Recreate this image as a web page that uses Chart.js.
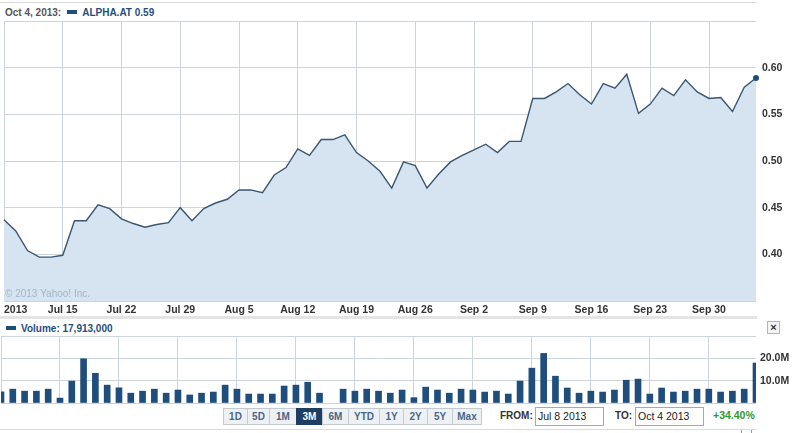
<!DOCTYPE html>
<html>
<head>
<meta charset="utf-8">
<script src="https://cdn.jsdelivr.net/npm/chart.js@4.4.1/dist/chart.umd.min.js"></script>
<style>
  body { margin: 0; width: 795px; height: 433px; background: #fff; position: relative; overflow: hidden;
         font-family: "Liberation Sans", Arial, sans-serif; }
  .abs { position: absolute; }
  .legend { font-size: 10px; font-weight: bold; white-space: nowrap; line-height: 12px; }
  .legend .date { color: #555; }
  .legend .mark { display: inline-block; width: 10px; height: 4px; background: #1f4e7d; margin: 0 5px 0 6px; vertical-align: 2px; }
  .legend .sym { color: #1f4e7d; }
  .btn { position: absolute; top: 408px; height: 15px; border: 1px solid #c3cad1; background: #eef1f4;
         font-size: 10px; font-weight: bold; color: #4a6788; text-align: center; line-height: 15px; box-sizing: content-box; }
  .btn.on { background: #1e3d63; color: #fff; border-color: #1e3d63; }
  .box { position: absolute; top: 407px; height: 17px; border: 1px solid #a9a9a9; background: #fff;
         font-size: 10.5px; color: #222; line-height: 17px; padding-left: 2px; }
  .lbl { position: absolute; top: 408px; font-size: 10px; font-weight: bold; color: #333; line-height: 15px; }
</style>
</head>
<body>
<div class="abs" style="left:0;top:2px;width:757px;height:1px;background:#dcdcdc"></div>
<div class="abs legend" style="left:5px;top:7px"><span class="date">Oct 4, 2013:</span><span class="mark"></span><span class="sym">ALPHA.AT 0.59</span></div>

<canvas id="price" class="abs" width="795" height="318" style="left:0;top:0"></canvas>
<div class="abs" style="left:0;top:316px;width:757px;height:3px;background:#e4e4e4"></div>

<div class="abs legend" style="left:0;top:323px"><span class="mark" style="margin-left:6px"></span><span class="sym">Volume: 17,913,000</span></div>
<div class="abs" style="left:767px;top:321px;width:11px;height:11px;border:1px solid #b5b5b5;background:#f3f3f3;font-size:11px;line-height:11px;text-align:center;color:#333;font-weight:bold">&times;</div>
<canvas id="volume" class="abs" width="795" height="88" style="left:0;top:318px"></canvas>

<div id="buttons"></div>
<div class="lbl" style="left:500px">FROM:</div>
<div class="box" style="left:535px;width:65px">Jul 8 2013</div>
<div class="lbl" style="left:615px">TO:</div>
<div class="box" style="left:635px;width:65px">Oct 4 2013</div>
<div class="lbl" style="left:713px;color:#2f9a2f;font-size:10.5px">+34.40%</div>
<div class="abs" style="left:0;top:429px;width:757px;height:1px;background:#dcdcdc"></div>
<div class="abs" style="left:741px;top:430px;width:1px;height:3px;background:#999"></div>
<div class="abs" style="left:751px;top:430px;width:1px;height:3px;background:#999"></div>

<script>
// trading days, Jul 8 - Oct 4 2013
const dates = [
  'Jul 8','Jul 9','Jul 10','Jul 11','Jul 12',
  'Jul 15','Jul 16','Jul 17','Jul 18','Jul 19',
  'Jul 22','Jul 23','Jul 24','Jul 25','Jul 26',
  'Jul 29','Jul 30','Jul 31','Aug 1','Aug 2',
  'Aug 5','Aug 6','Aug 7','Aug 8','Aug 9',
  'Aug 12','Aug 13','Aug 14','Aug 15','Aug 16',
  'Aug 19','Aug 20','Aug 21','Aug 22','Aug 23',
  'Aug 26','Aug 27','Aug 28','Aug 29','Aug 30',
  'Sep 2','Sep 3','Sep 4','Sep 5','Sep 6',
  'Sep 9','Sep 10','Sep 11','Sep 12','Sep 13',
  'Sep 16','Sep 17','Sep 18','Sep 19','Sep 20',
  'Sep 23','Sep 24','Sep 25','Sep 26','Sep 27',
  'Sep 30','Oct 1','Oct 2','Oct 3','Oct 4'
];
const weekLabels = ['2013','Jul 15','Jul 22','Jul 29','Aug 5','Aug 12','Aug 19','Aug 26','Sep 2','Sep 9','Sep 16','Sep 23','Sep 30'];

const closePrice = [
  0.437, 0.425, 0.404, 0.397, 0.397,
  0.399, 0.436, 0.436, 0.453, 0.449,
  0.438, 0.433, 0.429, 0.432, 0.434,
  0.450, 0.436, 0.449, 0.455, 0.459,
  0.469, 0.469, 0.466, 0.485, 0.493,
  0.513, 0.506, 0.523, 0.523, 0.528,
  0.509, 0.500, 0.489, 0.471, 0.499,
  0.495, 0.471, 0.486, 0.499, 0.506,
  0.512, 0.518, 0.509, 0.521, 0.521,
  0.567, 0.567, 0.574, 0.583, 0.571,
  0.561, 0.583, 0.578, 0.593, 0.551,
  0.561, 0.578, 0.570, 0.587, 0.574,
  0.567, 0.568, 0.553, 0.579, 0.589
];

// volume in millions (Aug 15 holiday: no trading)
const volumeM = [
  5.0, 6.2, 5.3, 5.3, 6.2,
  2.2, 9.8, 19.8, 13.3, 8.0,
  6.8, 4.4, 5.3, 6.2, 4.4,
  5.8, 3.6, 4.4, 4.9, 8.0,
  6.2, 4.0, 4.0, 4.0, 7.6,
  8.0, 9.3, 4.4, null, 6.2,
  5.3, 6.2, 5.3, 4.4, 5.8,
  2.4, 7.1, 5.8, 4.4, 6.2,
  5.8, 4.9, 5.3, 4.0, 9.8,
  15.6, 22.2, 12.0, 6.7, 4.4,
  5.3, 4.9, 5.8, 10.2, 10.7,
  4.0, 6.7, 4.9, 5.3, 6.2,
  6.2, 4.9, 5.3, 6.2, 17.9
];

const priceTicks = [0.40, 0.45, 0.50, 0.55, 0.60];
const volumeTicks = [10, 20];
const rangeButtons = ['1D','5D','1M','3M','6M','YTD','1Y','2Y','5Y','Max'];

const gridColor = '#cdd5dc';
const axisFont = { family: '"Liberation Sans", Arial, sans-serif', size: 10.5, weight: 'bold' };

// buttons row
const btnEdges = [223, 247, 269, 296, 322, 348, 379, 403, 427, 452, 481];
const btnWrap = document.getElementById('buttons');
rangeButtons.forEach((b, i) => {
  const d = document.createElement('div');
  d.className = 'btn' + (b === '3M' ? ' on' : '');
  d.style.left = btnEdges[i] + 'px';
  d.style.width = (btnEdges[i + 1] - btnEdges[i] - 1) + 'px';
  d.textContent = b;
  btnWrap.appendChild(d);
});

const weekGrid = ctx => (ctx.index % 5 === 0 ? gridColor : 'rgba(0,0,0,0)');
const fitRight = s => { s.width = 39; s.paddingTop = 0; s.paddingBottom = 0; };

// watermark
const watermark = {
  id: 'watermark',
  afterDatasetsDraw(chart) {
    const c = chart.ctx;
    c.save();
    c.font = '10px "Liberation Sans", Arial, sans-serif';
    c.fillStyle = 'rgba(150,165,180,0.75)';
    c.textBaseline = 'alphabetic';
    c.fillText('\u00a9 2013 Yahoo! Inc.', 5, 297);
    c.restore();
  }
};

new Chart(document.getElementById('price'), {
  type: 'line',
  data: {
    labels: dates,
    datasets: [{
      data: closePrice,
      borderColor: '#3a5672',
      borderWidth: 1.4,
      backgroundColor: '#d5e4f0',
      fill: 'start',
      tension: 0,
      pointRadius: ctx => (ctx.dataIndex === closePrice.length - 1 ? 3 : 0),
      pointBackgroundColor: '#1f4e7d',
      pointBorderWidth: 0
    }]
  },
  options: {
    responsive: false,
    animation: false,
    layout: { padding: { left: 1, top: 21, right: 0, bottom: 0 } },
    plugins: { legend: { display: false }, tooltip: { enabled: false } },
    scales: {
      x: {
        grid: { color: weekGrid, drawTicks: false },
        border: { display: false },
        ticks: {
          autoSkip: false, maxRotation: 0, align: 'inner', padding: 3,
          color: '#333', font: axisFont,
          callback: (v, i) => (i % 5 === 0 ? weekLabels[i / 5] : '')
        },
        afterFit: s => { s.height = 17; s.paddingLeft = 0; s.paddingRight = 0; }
      },
      y: {
        position: 'right',
        min: 0.35, max: 0.65,
        grid: { color: gridColor, drawTicks: false },
        border: { display: false },
        ticks: {
          stepSize: 0.05, padding: 6, color: '#333', font: axisFont,
          callback: v => {
            const r = Math.round(v * 100) / 100;
            return priceTicks.includes(r) ? r.toFixed(2) : '';
          }
        },
        afterFit: fitRight
      }
    }
  },
  plugins: [watermark]
});

new Chart(document.getElementById('volume'), {
  type: 'bar',
  data: {
    labels: dates,
    datasets: [{
      data: volumeM,
      backgroundColor: '#1f4e7d',
      barThickness: 6
    }]
  },
  options: {
    responsive: false,
    animation: false,
    layout: { padding: { left: 1, top: 18, right: 0, bottom: 3 } },
    plugins: { legend: { display: false }, tooltip: { enabled: false } },
    scales: {
      x: {
        offset: false,
        grid: { color: weekGrid, drawTicks: false, offset: false },
        border: { display: false },
        ticks: { display: false },
        afterFit: s => { s.height = 0; s.paddingLeft = 0; s.paddingRight = 0; }
      },
      y: {
        position: 'right',
        min: 0, max: 30,
        grid: { color: gridColor, drawTicks: false },
        border: { display: false },
        ticks: {
          stepSize: 10, padding: 4, color: '#333', font: axisFont,
          callback: v => (volumeTicks.includes(v) ? v.toFixed(1) + 'M' : '')
        },
        afterFit: fitRight
      }
    }
  }
});
</script>
</body>
</html>
